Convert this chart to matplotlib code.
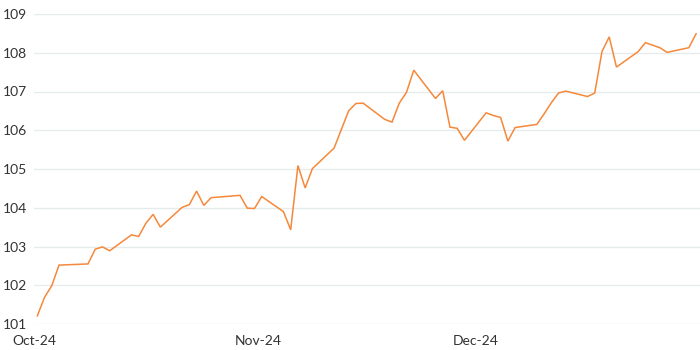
import matplotlib
matplotlib.use("Agg")
import matplotlib.pyplot as plt
import matplotlib.transforms as mtransforms
import pandas as pd

dates = [
    "2024-10-01", "2024-10-02", "2024-10-03", "2024-10-04", "2024-10-08", "2024-10-09",
    "2024-10-10", "2024-10-11", "2024-10-14", "2024-10-15", "2024-10-16", "2024-10-17",
    "2024-10-18", "2024-10-21", "2024-10-22", "2024-10-23", "2024-10-24", "2024-10-25",
    "2024-10-29", "2024-10-30", "2024-10-31", "2024-11-01", "2024-11-04", "2024-11-05",
    "2024-11-06", "2024-11-07", "2024-11-08", "2024-11-11", "2024-11-13", "2024-11-14",
    "2024-11-15", "2024-11-18", "2024-11-19", "2024-11-20", "2024-11-21", "2024-11-22",
    "2024-11-25", "2024-11-26", "2024-11-27", "2024-11-28", "2024-11-29", "2024-12-02",
    "2024-12-03", "2024-12-04", "2024-12-05", "2024-12-06", "2024-12-09", "2024-12-10",
    "2024-12-11", "2024-12-12", "2024-12-13", "2024-12-16", "2024-12-17", "2024-12-18",
    "2024-12-19", "2024-12-20", "2024-12-23", "2024-12-24", "2024-12-26", "2024-12-27",
    "2024-12-30", "2024-12-31",
]
values = [
    101.21, 101.69, 101.99, 102.52, 102.55, 102.93,
    102.99, 102.89, 103.30, 103.26, 103.60, 103.83,
    103.50, 104.01, 104.08, 104.43, 104.06, 104.26,
    104.32, 103.99, 103.98, 104.29, 103.90, 103.43,
    105.09, 104.51, 105.01, 105.54, 106.50, 106.69,
    106.70, 106.28, 106.21, 106.70, 106.98, 107.55,
    106.82, 107.02, 106.08, 106.05, 105.74, 106.45,
    106.38, 106.33, 105.72, 106.07, 106.15, 106.42,
    106.71, 106.96, 107.01, 106.87, 106.96, 108.03,
    108.41, 107.63, 108.03, 108.26, 108.13, 108.01,
    108.13, 108.49,
]
x_ticks = ["2024-10-01", "2024-11-01", "2024-12-01"]
x_tick_labels = ["Oct-24", "Nov-24", "Dec-24"]
y_ticks = [101, 102, 103, 104, 105, 106, 107, 108, 109]

plt.rcParams['font.family'] = ['Lato', 'DejaVu Sans']

fig = plt.figure(figsize=(7, 3.5), dpi=100)
ax = fig.add_axes([34 / 700, 26 / 350, 666 / 700, 310 / 350])

d = pd.to_datetime(dates)
ax.plot(d, values, color="#F5883A", lw=1.1, solid_joinstyle="miter", clip_on=False)

ax.set_ylim(101, 109)
ax.set_xlim(pd.Timestamp("2024-10-01") - pd.Timedelta(hours=11),
            pd.Timestamp("2024-12-31") + pd.Timedelta(hours=13))
ax.set_yticks(y_ticks)
ax.set_yticklabels([str(v) for v in y_ticks])
ax.set_xticks(pd.to_datetime(x_ticks))
ax.set_xticklabels(x_tick_labels)

ax.grid(axis="y", color="#E6EBEE", lw=1.0)
ax.grid(axis="x", visible=False)
ax.set_axisbelow(True)
for s in ax.spines.values():
    s.set_visible(False)
ax.tick_params(axis="both", length=0, labelsize=10, colors="#333333")
ax.tick_params(axis="y", pad=5)
ax.tick_params(axis="x", pad=8)

# reference labels sit a few pixels left of their tick positions
offset = mtransforms.ScaledTranslation(-3 / 100, 0, fig.dpi_scale_trans)
for lab in ax.get_xticklabels():
    lab.set_transform(lab.get_transform() + offset)

fig.savefig("out.png", dpi=100)
